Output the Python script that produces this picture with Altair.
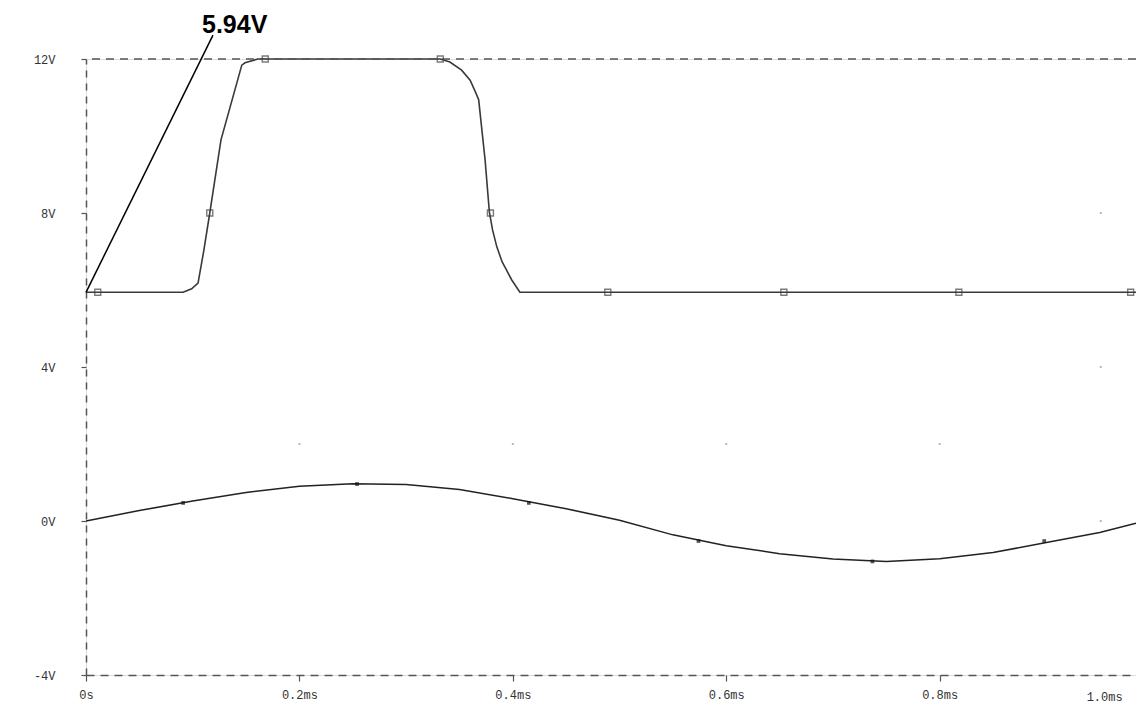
import altair as alt
import pandas as pd

# ---- data ----
pulse_t = [0.0, 0.091, 0.099, 0.105, 0.1105, 0.116, 0.1265, 0.146, 0.149, 0.161,
           0.332, 0.341, 0.352, 0.360, 0.365, 0.368, 0.370, 0.374, 0.378, 0.381,
           0.385, 0.390, 0.394, 0.399, 0.4066, 0.984]
pulse_v = [5.94, 5.94, 6.03, 6.18, 7.04, 8.0, 9.9, 11.84, 11.9, 12.0,
           12.0, 11.92, 11.71, 11.45, 11.14, 10.94, 10.42, 9.38, 8.03, 7.56,
           7.12, 6.73, 6.52, 6.26, 5.94, 5.94]
pulse_mark_t = [0.011, 0.116, 0.168, 0.332, 0.379, 0.489, 0.654, 0.818, 0.979]
pulse_mark_v = [5.94, 8.0, 12.0, 12.0, 8.0, 5.94, 5.94, 5.94, 5.94]

sine_t = [0.0, 0.05, 0.1, 0.15, 0.2, 0.25, 0.3, 0.35, 0.4, 0.45, 0.5,
          0.55, 0.6, 0.65, 0.7, 0.75, 0.8, 0.85, 0.9, 0.95, 0.984]
sine_v = [0.0, 0.27, 0.52, 0.74, 0.90, 0.97, 0.95, 0.82, 0.58, 0.32, 0.02,
          -0.36, -0.64, -0.85, -0.99, -1.05, -0.98, -0.82, -0.56, -0.30, -0.06]
sine_mark_t = [0.091, 0.254, 0.415, 0.574, 0.737, 0.898]
sine_mark_v = [0.47, 0.96, 0.47, -0.52, -1.05, -0.52]

x_ticks = [0, 0.2, 0.4, 0.6, 0.8]
y_ticks = [-4, 0, 4, 8, 12]
end_label = ["1.0ms"]
end_label_t = [0.9546]
end_label_v = [-4]

annot_text = ["5.94V"]
annot_t = [0.0]
annot_v = [5.94]
annot_t2 = [0.119]
annot_v2 = [12.62]
annot_text_t = [0.1087]
annot_text_v = [12.68]

dot_t = [0.2, 0.4, 0.6, 0.8, 0.951, 0.951, 0.951]
dot_v = [2, 2, 2, 2, 8, 4, 0]

top_v = [12]

# ---- tables ----
pulse = pd.DataFrame({"t": pulse_t, "v": pulse_v})
pulse_marks = pd.DataFrame({"t": pulse_mark_t, "v": pulse_mark_v})
sine = pd.DataFrame({"t": sine_t, "v": sine_v})
sine_marks = pd.DataFrame({"t": sine_mark_t, "v": sine_mark_v})
annot = pd.DataFrame({"t": annot_t, "v": annot_v, "t2": annot_t2, "v2": annot_v2})
annot_lbl = pd.DataFrame({"t": annot_text_t, "v": annot_text_v, "label": annot_text})
endlbl = pd.DataFrame({"t": end_label_t, "v": end_label_v, "label": end_label})
dots = pd.DataFrame({"t": dot_t, "v": dot_v})
top = pd.DataFrame({"v": top_v})

xs = alt.Scale(domain=[0, 0.984], nice=False, zero=False)
ys = alt.Scale(domain=[-4, 12], nice=False, zero=False)

LBL_FONT = "Liberation Mono"

x_enc = alt.X("t:Q", scale=xs, title=None,
              axis=alt.Axis(values=x_ticks, grid=False, labelFlush=False,
                            labelExpr="datum.value == 0 ? '0s' : format(datum.value, '.1f') + 'ms'",
                            domainDash=[8, 6], domainColor="#555", domainWidth=1.5,
                            tickColor="#555", tickSize=6, tickWidth=1.2,
                            labelFont=LBL_FONT, labelFontSize=12, labelColor="#333",
                            labelPadding=8))
y_enc = alt.Y("v:Q", scale=ys, title=None,
              axis=alt.Axis(values=y_ticks, grid=False, labelFlush=False,
                            labelExpr="datum.value + 'V'",
                            domainDash=[7, 6], domainColor="#555", domainWidth=1.5,
                            tickColor="#555", tickSize=5, tickWidth=1.2,
                            labelFont=LBL_FONT, labelFontSize=12, labelColor="#333",
                            labelPadding=26, labelAlign="right", labelBaseline="middle"))

top_rule = alt.Chart(top).mark_rule(color="#555", strokeDash=[8, 6], strokeWidth=1.5).encode(
    y=y_enc)

pulse_line = alt.Chart(pulse).mark_line(color="#3a3a3a", strokeWidth=1.6).encode(
    x=x_enc, y=y_enc, order="t:Q")
pulse_pts = alt.Chart(pulse_marks).mark_point(shape="square", size=36, filled=False,
                                              color="#444", strokeWidth=1.4).encode(x=x_enc, y=y_enc)
sine_line = alt.Chart(sine).mark_line(color="#222", strokeWidth=1.5).encode(
    x=x_enc, y=y_enc, order="t:Q")
sine_pts = alt.Chart(sine_marks).mark_point(shape="square", size=14, filled=True,
                                            color="#111").encode(x=x_enc, y=y_enc)
dot_pts = alt.Chart(dots).mark_point(shape="square", size=4, filled=True,
                                     color="#999").encode(x=x_enc, y=y_enc)

leader = alt.Chart(annot).mark_rule(color="#000", strokeWidth=1.5).encode(
    x=x_enc, y=y_enc, x2="t2:Q", y2="v2:Q")
annot_txt = alt.Chart(annot_lbl).mark_text(font="Liberation Sans", fontSize=25, fontWeight="bold",
                                           align="left", baseline="alphabetic", color="#000").encode(
    x=x_enc, y=y_enc, text="label:N")
end_txt = alt.Chart(endlbl).mark_text(font=LBL_FONT, fontSize=12, align="center",
                                      baseline="middle", dy=22, color="#333").encode(
    x=x_enc, y=y_enc, text="label:N")

chart = alt.layer(pulse_line, top_rule, pulse_pts, sine_line, sine_pts, dot_pts,
                  leader, annot_txt, end_txt).properties(
    width=1050, height=616,
    autosize=alt.AutoSizeParams(type="none"),
    padding={"left": 78, "top": 51, "right": 0, "bottom": 30},
).configure_view(stroke=None).configure(background="white")

chart.save("out.html", embed_options={"renderer": "svg", "actions": False})
